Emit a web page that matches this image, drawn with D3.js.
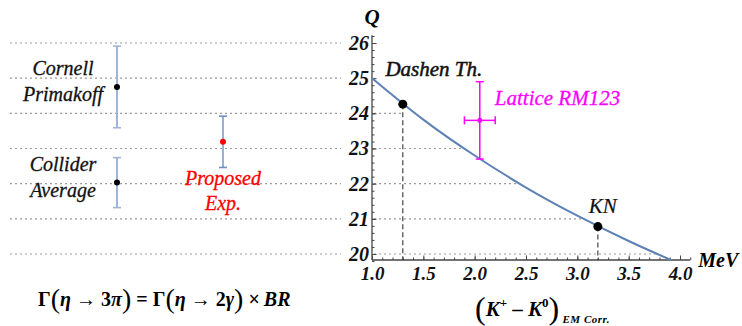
<!DOCTYPE html>
<html>
<head>
<meta charset="utf-8">
<script src="https://cdn.jsdelivr.net/npm/d3@7"></script>
<style>
  body { margin: 0; background: #fff; }
  svg { display: block; }
</style>
</head>
<body>
<div class="chart"></div>
<script>
// Q values on the shared vertical scale
const qTicks = [20, 21, 22, 23, 24, 25, 26];
const mevTicks = [1.0, 1.5, 2.0, 2.5, 3.0, 3.5, 4.0];

// Q vs (K+ - K0)_EM curve
const curveX = [1.0, 1.5, 2.0, 2.5, 3.0, 3.5, 3.92];
const curveQ = [25.0, 23.82, 22.8, 21.89, 21.09, 20.37, 19.82];

// measurements on the left panel
const measNames = ["Cornell Primakoff", "Collider Average", "Proposed Exp."];
const measQ = [24.75, 22.03, 23.19];
const measErr = [1.16, 0.71, 0.73];
const measCol = [0, 0, 1];

// theory points on the curve
const theoryNames = ["Dashen Th.", "KN"];
const theoryX = [1.3, 3.2];
const theoryQ = [24.26, 20.78];

// lattice point with errors in both directions
const latticeName = "Lattice RM123";
const latticeX = 2.05, latticeXErr = 0.15;
const latticeQ = 23.8, latticeQErr = 1.1;

const width = 742, height = 326;
const serif = "Liberation Serif";
const blue = "#5e81b5";

const x = d3.scaleLinear().domain([1.0, 4.0]).range([372, 680]);
const y = d3.scaleLinear().domain([20, 26]).range([254, 43]);
const xl = d3.scaleLinear().domain([0, 1]).range([117, 223]);

const svg = d3.select('.chart')
  .append('svg')
  .attr('width', width)
  .attr('height', height)
  .attr('font-family', serif);

// where a horizontal line of level q meets the curve
const curveAt = q => {
  for (let i = 0; i < curveQ.length - 1; i++) {
    if (q <= curveQ[i] && q >= curveQ[i + 1]) {
      const t = (curveQ[i] - q) / (curveQ[i] - curveQ[i + 1]);
      return curveX[i] + t * (curveX[i + 1] - curveX[i]);
    }
  }
  return null;
};

// dotted grid, left panel
svg.append("g")
  .selectAll("line")
  .data(qTicks)
  .join("line")
    .attr("x1", 10).attr("x2", 341)
    .attr("y1", d => y(d)).attr("y2", d => y(d))
    .attr("stroke", "#9a9a9a")
    .attr("stroke-width", 1.1)
    .attr("stroke-dasharray", "2,3");

// dotted grid inside the plot, up to the curve
svg.append("g")
  .selectAll("line")
  .data(qTicks.filter(q => q < 25))
  .join("line")
    .attr("x1", x(1.0) + 2)
    .attr("x2", d => x(Math.min(curveAt(d) ?? 1, d >= theoryQ[0] - 0.5 ? theoryX[0] : 99)))
    .attr("y1", d => y(d)).attr("y2", d => y(d))
    .attr("stroke", "#9a9a9a")
    .attr("stroke-width", 1.1)
    .attr("stroke-dasharray", "2,3");

// axes
const yBottom = 19.83, yTop = 26.22, xRight = 4.1;

const styleTicks = (g, size) => g.selectAll("text")
  .attr("font-family", serif)
  .attr("font-size", size)
  .attr("font-weight", "bold")
  .attr("font-style", "italic")
  .attr("fill", "#111");

svg.append("g")
  .attr("transform", `translate(${x(1.0)},0)`)
  .call(d3.axisLeft(y).tickValues(d3.range(0, 33).map(i => 19.8 + i * 0.2)).tickSize(-2.5).tickFormat(""))
  .call(g => g.select(".domain").remove())
  .call(g => g.selectAll("line").attr("stroke", "#444"));

svg.append("g")
  .attr("transform", `translate(${x(1.0)},0)`)
  .call(d3.axisLeft(y).tickValues(qTicks).tickSize(-4.5).tickPadding(3).tickFormat(d3.format("d")))
  .call(g => g.select(".domain").remove())
  .call(g => g.attr("font-family", serif))
  .call(g => g.selectAll("line").attr("stroke", "#444"))
  .call(g => styleTicks(g, 20));

svg.append("g")
  .attr("transform", `translate(0,${y(yBottom)})`)
  .call(d3.axisBottom(x).tickValues(d3.range(0, 32).map(i => 1.0 + i * 0.1)).tickSize(-2.5).tickFormat(""))
  .call(g => g.select(".domain").remove())
  .call(g => g.selectAll("line").attr("stroke", "#444"));

svg.append("g")
  .attr("transform", `translate(0,${y(yBottom)})`)
  .call(d3.axisBottom(x).tickValues(mevTicks).tickSize(-4.5).tickPadding(7).tickFormat(d3.format(".1f")))
  .call(g => g.select(".domain").remove())
  .call(g => g.attr("font-family", serif))
  .call(g => g.selectAll("line").attr("stroke", "#444"))
  .call(g => styleTicks(g, 19));

svg.append("line")
  .attr("x1", x(1.0)).attr("x2", x(1.0))
  .attr("y1", y(yBottom)).attr("y2", y(yTop))
  .attr("stroke", "#444").attr("stroke-width", 1.3);

svg.append("line")
  .attr("x1", x(1.0)).attr("x2", x(xRight))
  .attr("y1", y(yBottom)).attr("y2", y(yBottom))
  .attr("stroke", "#444").attr("stroke-width", 1.3);

svg.append("text")
  .attr("x", x(1.0)).attr("y", 24)
  .attr("text-anchor", "middle")
  .attr("font-size", 21).attr("font-weight", "bold").attr("font-style", "italic")
  .text("Q");

svg.append("text")
  .attr("x", x(xRight) + 8).attr("y", y(yBottom) + 7)
  .attr("font-size", 20).attr("font-weight", "bold").attr("font-style", "italic")
  .text("MeV");

// x axis title (K+ - K0)_EM Corr.
const xt = svg.append("text")
  .attr("x", 475).attr("y", 316)
  .attr("font-size", 21).attr("font-weight", "bold").attr("font-style", "italic");
xt.append("tspan").attr("font-size", 32).attr("font-style", "normal").attr("font-weight", "normal").attr("dy", 3).text("(");
xt.append("tspan").attr("dy", -3).text("K");
xt.append("tspan").attr("font-size", 13).attr("dy", -9).attr("font-style", "normal").text("+");
xt.append("tspan").attr("dy", 9).attr("font-style", "normal").text(" – ");
xt.append("tspan").text("K");
xt.append("tspan").attr("font-size", 13).attr("dy", -9).attr("font-style", "normal").text("0");
xt.append("tspan").attr("font-size", 32).attr("font-style", "normal").attr("font-weight", "normal").attr("dy", 12).text(")");
xt.append("tspan").attr("font-size", 11).attr("dy", 4).attr("letter-spacing", 0.5).text(" EM  Corr.");

// vertical dashed drop lines
svg.append("g")
  .selectAll("line")
  .data(theoryX)
  .join("line")
    .attr("x1", d => x(d)).attr("x2", d => x(d))
    .attr("y1", (d, i) => y(theoryQ[i]))
    .attr("y2", y(yBottom))
    .attr("stroke", "#333")
    .attr("stroke-width", 1.1)
    .attr("stroke-dasharray", "5,3");

// curve
const line = d3.line()
  .x(d => x(d[0]))
  .y(d => y(d[1]))
  .curve(d3.curveNatural);

svg.append("path")
  .datum(curveX.map((d, i) => [d, curveQ[i]]))
  .attr("d", line)
  .attr("fill", "none")
  .attr("stroke", blue)
  .attr("stroke-width", 2);

// theory points
svg.append("g")
  .selectAll("circle")
  .data(theoryX)
  .join("circle")
    .attr("cx", d => x(d))
    .attr("cy", (d, i) => y(theoryQ[i]))
    .attr("r", 4.5)
    .attr("fill", "#000");

svg.append("g")
  .selectAll("text")
  .data(theoryNames)
  .join("text")
    .attr("x", (d, i) => x(theoryX[i]) + (i === 0 ? 31 : 5))
    .attr("y", (d, i) => y(theoryQ[i]) - (i === 0 ? 28 : 14))
    .attr("text-anchor", "middle")
    .attr("font-size", 21)
    .attr("font-style", "italic")
    .attr("fill", "#111")
    .attr("stroke", "#111")
    .attr("stroke-width", (d, i) => i === 0 ? 0.5 : 0.2)
    .text(d => d);

// lattice point
const mag = "#ff00ff";
const lat = svg.append("g").attr("stroke", mag).attr("stroke-width", 1.5);
lat.append("line")
  .attr("x1", x(latticeX)).attr("x2", x(latticeX))
  .attr("y1", y(latticeQ + latticeQErr)).attr("y2", y(latticeQ - latticeQErr));
lat.append("line")
  .attr("x1", x(latticeX - latticeXErr)).attr("x2", x(latticeX + latticeXErr))
  .attr("y1", y(latticeQ)).attr("y2", y(latticeQ));
[latticeQ + latticeQErr, latticeQ - latticeQErr].forEach(q => lat.append("line")
  .attr("x1", x(latticeX) - 4).attr("x2", x(latticeX) + 4)
  .attr("y1", y(q)).attr("y2", y(q)));
[latticeX - latticeXErr, latticeX + latticeXErr].forEach(v => lat.append("line")
  .attr("x1", x(v)).attr("x2", x(v))
  .attr("y1", y(latticeQ) - 4).attr("y2", y(latticeQ) + 4));
svg.append("circle")
  .attr("cx", x(latticeX)).attr("cy", y(latticeQ))
  .attr("r", 2.5).attr("fill", mag);
svg.append("text")
  .attr("x", x(latticeX) + 15).attr("y", y(latticeQ) - 15)
  .attr("font-size", 21).attr("font-style", "italic")
  .attr("fill", mag).attr("stroke", mag).attr("stroke-width", 0.3)
  .text(latticeName);

// left panel measurements
const meas = svg.append("g")
  .selectAll("g")
  .data(measNames)
  .join("g");

meas.append("line")
  .attr("x1", (d, i) => xl(measCol[i])).attr("x2", (d, i) => xl(measCol[i]))
  .attr("y1", (d, i) => y(measQ[i] + measErr[i]))
  .attr("y2", (d, i) => y(measQ[i] - measErr[i]))
  .attr("stroke", (d, i) => measCol[i] ? "#6f8fc0" : "#9fb5d8")
  .attr("stroke-width", (d, i) => measCol[i] ? 1.4 : 2);

[1, -1].forEach(s => meas.append("line")
  .attr("x1", (d, i) => xl(measCol[i]) - 4).attr("x2", (d, i) => xl(measCol[i]) + 4)
  .attr("y1", (d, i) => y(measQ[i] + s * measErr[i]))
  .attr("y2", (d, i) => y(measQ[i] + s * measErr[i]))
  .attr("stroke", (d, i) => measCol[i] ? "#6f8fc0" : "#9fb5d8")
  .attr("stroke-width", 1.6));

meas.append("circle")
  .attr("cx", (d, i) => xl(measCol[i]))
  .attr("cy", (d, i) => y(measQ[i]))
  .attr("r", 3)
  .attr("fill", (d, i) => measCol[i] ? "#ff0000" : "#000");

meas.append("text")
  .attr("text-anchor", "middle")
  .attr("font-size", 20)
  .attr("font-style", "italic")
  .attr("fill", (d, i) => measCol[i] ? "#ff0000" : "#111")
  .attr("stroke", (d, i) => measCol[i] ? "#ff0000" : "#111")
  .attr("stroke-width", 0.3)
  .selectAll("tspan")
  .data((d, i) => d.split(" ").map(w => [w, i]))
  .join("tspan")
    .attr("x", d => measCol[d[1]] ? xl(measCol[d[1]]) : xl(0) - 54)
    .attr("y", (d, j) => measCol[d[1]]
      ? y(measQ[d[1]]) + 43 + j * 25
      : y(measQ[d[1]]) - 3 + (j - 0.5) * 26 + 4)
    .text(d => d[0]);

// formula at the bottom
const f = svg.append("text")
  .attr("x", 38).attr("y", 306)
  .attr("font-size", 20)
  .attr("font-weight", "bold");
f.append("tspan").text("Γ");
f.append("tspan").attr("font-size", 28).attr("dy", 2).attr("font-weight", "normal").text("(");
f.append("tspan").attr("dy", -2).attr("font-style", "italic").text("η");
f.append("tspan").text(" → 3");
f.append("tspan").attr("font-style", "italic").text("π");
f.append("tspan").attr("font-size", 28).attr("dy", 2).attr("font-weight", "normal").text(")");
f.append("tspan").attr("dy", -2).text(" = ");
f.append("tspan").text("Γ");
f.append("tspan").attr("font-size", 28).attr("dy", 2).attr("font-weight", "normal").text(")".replace(")", "("));
f.append("tspan").attr("dy", -2).attr("font-style", "italic").text("η");
f.append("tspan").text(" → 2");
f.append("tspan").attr("font-style", "italic").text("γ");
f.append("tspan").attr("font-size", 28).attr("dy", 2).attr("font-weight", "normal").text(")");
f.append("tspan").attr("dy", -2).text(" ×\u2009");
f.append("tspan").attr("font-style", "italic").text("BR");
</script>
</body>
</html>
